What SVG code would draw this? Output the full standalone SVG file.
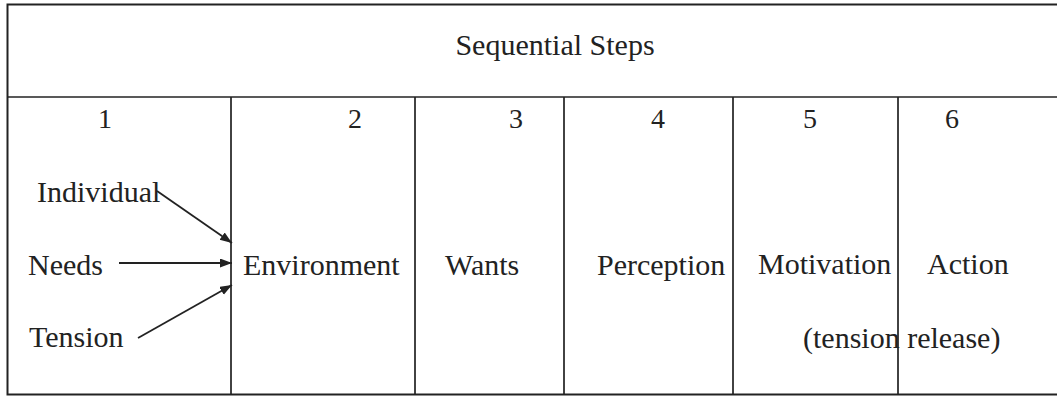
<svg xmlns="http://www.w3.org/2000/svg" width="1057" height="396" viewBox="0 0 1057 396">
<style>
.ln{stroke:#222;stroke-width:1.7;fill:none}
.t{font-family:"Liberation Serif","Times New Roman",serif;font-size:30px;fill:#222}
.n{font-family:"Liberation Serif","Times New Roman",serif;font-size:28px;fill:#222;text-anchor:middle}
.ar{stroke:#222;stroke-width:1.8;fill:none;marker-end:url(#ah)}
</style>
<defs>
<marker id="ah" markerUnits="userSpaceOnUse" markerWidth="14" markerHeight="10" refX="12" refY="4.5" orient="auto">
<path d="M0,0 L12,4.5 L0,9 Z" fill="#222"/>
</marker>
</defs>
<rect width="1057" height="396" fill="#fff"/>
<g id="table">
<path class="ln" d="M1057,4.5 H7.5 V394.5 H1057" style="stroke-width:2"/>
<path class="ln" d="M7.5,97 H1057"/>
<path class="ln" d="M231,97 V395 M415,97 V395 M564,97 V395 M733,97 V395 M898,97 V395"/>
</g>
<g id="header"><text class="t" x="555" y="55" text-anchor="middle">Sequential Steps</text></g>
<g id="step1">
<text class="n" x="105" y="128">1</text>
<text class="t" x="37" y="202">Individual</text>
<text class="t" x="28" y="275">Needs</text>
<text class="t" x="29" y="347">Tension</text>
</g>
<g id="step2"><text class="n" x="355" y="128">2</text><text class="t" x="243" y="275">Environment</text></g>
<g id="step3"><text class="n" x="516" y="128">3</text><text class="t" x="445" y="275">Wants</text></g>
<g id="step4"><text class="n" x="658" y="128">4</text><text class="t" x="597" y="275">Perception</text></g>
<g id="step5"><text class="n" x="810" y="128">5</text><text class="t" x="758" y="274">Motivation</text></g>
<g id="step6"><text class="n" x="952" y="128">6</text><text class="t" x="927" y="274">Action</text></g>
<g id="note"><text class="t" x="803" y="348">(tension release)</text></g>
<g id="connectors">
<line class="ar" x1="157" y1="191" x2="232" y2="243"/>
<line class="ar" x1="119" y1="263" x2="232" y2="263"/>
<line class="ar" x1="138" y1="338" x2="232" y2="285"/>
</g>
</svg>
